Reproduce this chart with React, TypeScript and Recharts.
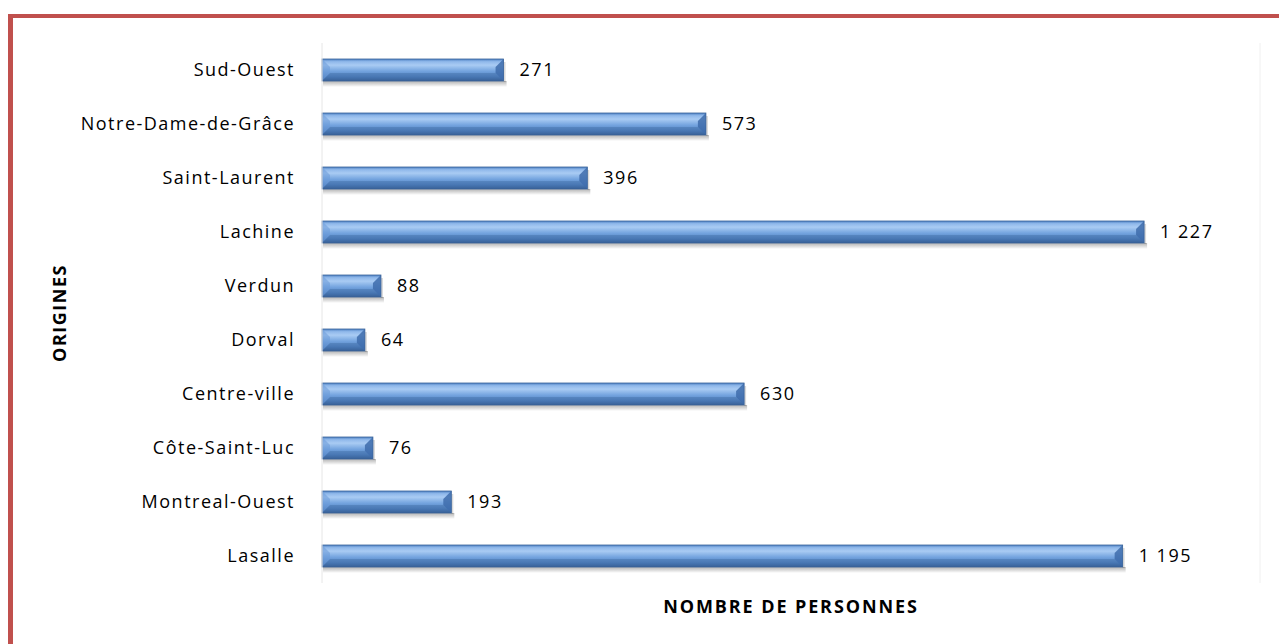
import { Bar, BarChart, CartesianGrid, LabelList, XAxis, YAxis } from "recharts";

const categories = [
  "Sud-Ouest",
  "Notre-Dame-de-Grâce",
  "Saint-Laurent",
  "Lachine",
  "Verdun",
  "Dorval",
  "Centre-ville",
  "Côte-Saint-Luc",
  "Montreal-Ouest",
  "Lasalle",
];
const personnes = [271, 573, 396, 1227, 88, 64, 630, 76, 193, 1195];
const xTicks = [0, 200, 400, 600, 800, 1000, 1200, 1400];

const data = categories.map((origine, i) => ({ origine, personnes: personnes[i] }));

const FONT = "'Open Sans', Lato, sans-serif";

function formatEspace(v: number) {
  return String(v).replace(/\B(?=(\d{3})+(?!\d))/g, " ");
}

// barre en relief façon Excel (biseau + ombre)
function BevelBar(props: any) {
  const { x, y, width, height, index } = props;
  if (!width || width <= 0 || !height) return null;
  const b = Math.min(8, width / 2, height / 2);
  const r = x + width;
  const bot = y + height;
  const gid = `barGrad${index}`;
  const sid = `barShadow${index}`;
  return (
    <g>
      <defs>
        <linearGradient id={gid} x1="0" y1="0" x2="0" y2="1">
          <stop offset="0%" stopColor="#4f82c4" />
          <stop offset="12%" stopColor="#8fb8ea" />
          <stop offset="28%" stopColor="#a9cbf3" />
          <stop offset="55%" stopColor="#74a4df" />
          <stop offset="82%" stopColor="#4f80c0" />
          <stop offset="100%" stopColor="#385f95" />
        </linearGradient>
        <linearGradient id={sid} x1="0" y1="0" x2="0" y2="1">
          <stop offset="0%" stopColor="#000" stopOpacity={0.3} />
          <stop offset="100%" stopColor="#000" stopOpacity={0} />
        </linearGradient>
      </defs>
      <rect x={x + 1} y={bot} width={width + 2} height={6} fill={`url(#${sid})`} />
      <rect x={r} y={y + 3} width={2} height={height - 2} fill="#000" opacity={0.15} />
      <rect x={x} y={y} width={width} height={height} fill={`url(#${gid})`} />
      <polygon points={`${x},${y} ${x + b},${y + b} ${x + b},${bot - b} ${x},${bot}`} fill="#6b9bd8" opacity={0.55} />
      <polygon points={`${r},${y} ${r - b},${y + b} ${r - b},${bot - b} ${r},${bot}`} fill="#3e6cab" opacity={0.85} />
      <polygon points={`${x},${bot} ${r},${bot} ${r - b},${bot - b} ${x + b},${bot - b}`} fill="#3a639c" opacity={0.35} />
      <rect x={x} y={y} width={width} height={height} fill="none" stroke="#3a6399" strokeWidth={0.8} />
    </g>
  );
}

export default function App() {
  return (
    <div style={{ position: "fixed", left: 0, top: 0, width: 1279, height: 644, background: "#fff", overflow: "hidden" }}>
      <div
        style={{
          position: "absolute",
          left: 8,
          top: 14,
          width: 1400,
          height: 800,
          borderLeft: "5px solid #C0504D",
          borderTop: "4px solid #C0504D",
        }}
      />
      <div style={{ position: "absolute", left: 0, top: 0 }}>
        <BarChart
          width={1279}
          height={644}
          data={data}
          layout="vertical"
          barSize={22}
          margin={{ top: 43, right: 19, left: 0, bottom: 21 }}
        >
          <CartesianGrid horizontal={false} stroke="#f0f0f0" />
          <XAxis
            type="number"
            domain={[0, 1400]}
            ticks={xTicks}
            tick={false}
            tickLine={false}
            axisLine={false}
            height={40}
            label={{
              value: "NOMBRE DE PERSONNES",
              position: "insideBottom",
              offset: 10,
              style: { fontFamily: FONT, fontWeight: 700, fontSize: 18, letterSpacing: 1.9, fill: "#000" },
            }}
          />
          <YAxis
            type="category"
            dataKey="origine"
            width={322}
            tickLine={false}
            axisLine={{ stroke: "#eeeeee" }}
            tickMargin={21}
            tick={{ fontFamily: FONT, fontSize: 18, letterSpacing: 1.5, fill: "#000" }}
            label={{
              value: "ORIGINES",
              angle: -90,
              position: "insideLeft",
              offset: 60,
              style: { textAnchor: "middle", fontFamily: FONT, fontWeight: 700, fontSize: 18, letterSpacing: 1.5, fill: "#000" },
            }}
          />
          <Bar dataKey="personnes" shape={<BevelBar />} isAnimationActive={false}>
            <LabelList
              dataKey="personnes"
              position="right"
              offset={16}
              formatter={(v: any) => formatEspace(Number(v))}
              style={{ fontFamily: FONT, fontSize: 18, letterSpacing: 1.5, fill: "#000" }}
            />
          </Bar>
        </BarChart>
      </div>
    </div>
  );
}
